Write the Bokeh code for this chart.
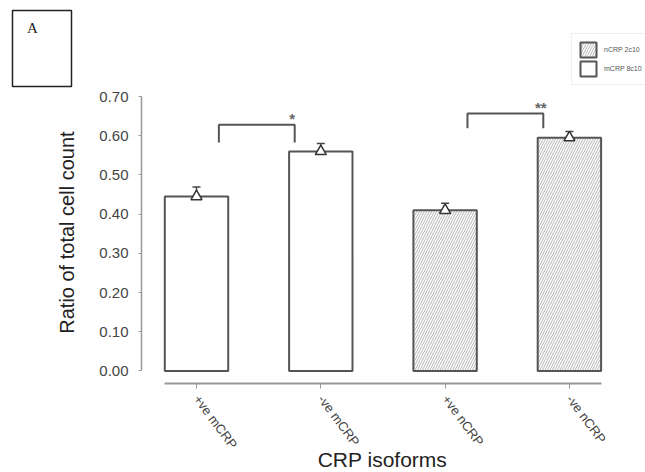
from bokeh.plotting import figure
from bokeh.models import (ColumnDataSource, Whisker, TeeHead, FixedTicker,
                          Legend, LegendItem, Range1d)
from bokeh.embed import file_html
from bokeh.resources import INLINE
from bokeh.core.properties import value
import math

# ---- data ----
categories = ["+ve mCRP", "-ve mCRP", "+ve nCRP", "-ve nCRP"]
positions = [1, 2, 3, 4]
means = [0.445, 0.560, 0.410, 0.595]
errors = [0.024, 0.020, 0.018, 0.016]
isoform = ["mCRP 8c10", "mCRP 8c10", "nCRP 2c10", "nCRP 2c10"]
y_ticks = [0.0, 0.1, 0.2, 0.3, 0.4, 0.5, 0.6, 0.7]
y_tick_labels = ["0.00", "0.10", "0.20", "0.30", "0.40", "0.50", "0.60", "0.70"]
cmp_left = [1, 3]
cmp_right = [2, 4]
cmp_text = ["*", "**"]
cmp_top = [0.628, 0.657]
cmp_leg = [0.583, 0.619]
legend_labels = ["nCRP 2c10", "mCRP 8c10"]
panel_letter = "A"
x_title = "CRP isoforms"
y_title = "Ratio of total cell count"

FONT = "Liberation Sans"
BAR_W = 0.51
X_AXIS_AT = -0.0319   # y value where the x axis sits (offset below zero)
Y_AXIS_AT = 0.5575    # x value where the y axis sits

p = figure(width=645, height=472, output_backend="svg", toolbar_location=None,
           x_range=Range1d(-0.5768, 4.6122), y_range=Range1d(-0.2589, 0.9449),
           min_border=0)
p.grid.visible = False
p.outline_line_color = None
p.background_fill_color = "white"
p.border_fill_color = "white"

upper = [m + e for m, e in zip(means, errors)]
lower = [m - e for m, e in zip(means, errors)]
src_m = ColumnDataSource(dict(x=[x for x, g in zip(positions, isoform) if g.startswith("m")],
                              top=[m for m, g in zip(means, isoform) if g.startswith("m")]))
src_n = ColumnDataSource(dict(x=[x for x, g in zip(positions, isoform) if g.startswith("n")],
                              top=[m for m, g in zip(means, isoform) if g.startswith("n")]))

r_m = p.vbar(x="x", top="top", bottom=0, width=BAR_W, source=src_m,
             fill_color="white", line_color="#555555", line_width=2)
r_n = p.vbar(x="x", top="top", bottom=0, width=BAR_W, source=src_n,
             fill_color="white", line_color="#555555", line_width=2,
             hatch_pattern="/", hatch_color="#b4b4b4", hatch_scale=5, hatch_weight=1)

err_src = ColumnDataSource(dict(x=positions, upper=upper, lower=lower, mean=means))
w = Whisker(base="x", upper="upper", lower="lower", source=err_src,
            line_color="#444444", line_width=1.5,
            upper_head=TeeHead(size=8, line_color="#444444", line_width=1.5),
            lower_head=TeeHead(size=8, line_color="#444444", line_width=1.5))
p.add_layout(w)
p.scatter(x="x", y="mean", source=err_src, marker="triangle", size=11,
          fill_color="white", line_color="#333333", line_width=1.5)

# significance brackets
xs, ys = [], []
for l, r, t, g in zip(cmp_left, cmp_right, cmp_top, cmp_leg):
    xs.append([l + 0.18, l + 0.18, r - 0.21, r - 0.21])
    ys.append([g, t, t, g])
p.multi_line(xs=xs, ys=ys, line_color="#555555", line_width=2)
p.text(x=[r - 0.23 for r in cmp_right], y=[t + 0.016 for t in cmp_top], text=cmp_text,
       text_align="center", text_baseline="middle", text_font=value(FONT),
       text_font_size="15px", text_font_style="bold", text_color="#666666")

# axes (drawn at fixed positions inside the canvas, R-style offset axes)
p.yaxis.fixed_location = Y_AXIS_AT
p.yaxis.ticker = FixedTicker(ticks=y_ticks)
p.yaxis.major_label_overrides = {t: s for t, s in zip(y_ticks, y_tick_labels)}
p.yaxis.bounds = (y_ticks[0], y_ticks[-1])
p.yaxis.minor_tick_line_color = None
p.yaxis.major_tick_in = 0
p.yaxis.major_tick_out = 3
p.yaxis.axis_line_color = "#999999"
p.yaxis.axis_line_width = 1.5
p.yaxis.major_tick_line_color = "#999999"
p.yaxis.major_label_standoff = 10
p.yaxis.major_label_text_font = FONT
p.yaxis.major_label_text_font_size = "15px"
p.yaxis.major_label_text_color = "#444444"

p.xaxis.fixed_location = X_AXIS_AT
p.xaxis.ticker = FixedTicker(ticks=positions)
p.xaxis.major_label_overrides = {x: c for x, c in zip(positions, categories)}
p.xaxis.bounds = (positions[0] - BAR_W / 2, positions[-1] + BAR_W / 2)
p.xaxis.minor_tick_line_color = None
p.xaxis.major_tick_in = 0
p.xaxis.major_tick_out = 5
p.xaxis.axis_line_color = "#999999"
p.xaxis.axis_line_width = 2
p.xaxis.major_tick_line_color = "#999999"
p.xaxis.major_label_orientation = -0.93
p.xaxis.major_label_standoff = 8
p.xaxis.major_label_text_font = FONT
p.xaxis.major_label_text_font_size = "13px"
p.xaxis.major_label_text_color = "#444444"

# axis titles
p.text(x=[2.496], y=[-0.2257], text=[x_title], text_align="center",
       text_baseline="middle", text_font=value(FONT), text_font_size="21px",
       text_color="#222222")
p.text(x=[-0.038], y=[0.353], text=[y_title], angle=math.pi / 2,
       text_align="center", text_baseline="middle", text_font=value(FONT),
       text_font_size="20px", text_color="#222222")

# panel letter box
p.quad(left=[-0.4803], right=[-0.0056], top=[0.9194], bottom=[0.7257],
       fill_color="white", line_color="#222222", line_width=1.5)
p.text(x=[-0.3194], y=[0.8735], text=[panel_letter], text_align="center",
       text_baseline="middle", text_font=value("Liberation Serif"),
       text_font_size="15px", text_color="#222222")

legend = Legend(items=[LegendItem(label=legend_labels[0], renderers=[r_n]),
                       LegendItem(label=legend_labels[1], renderers=[r_m])],
                location=(571, 387), glyph_width=20, glyph_height=19, spacing=0,
                padding=6, margin=0, label_standoff=6, label_text_font=FONT,
                label_text_font_size="7px", label_text_color="#555555",
                border_line_color="#dddddd", background_fill_color="white")
p.add_layout(legend)

open("out.html", "w").write(file_html(p, INLINE))
